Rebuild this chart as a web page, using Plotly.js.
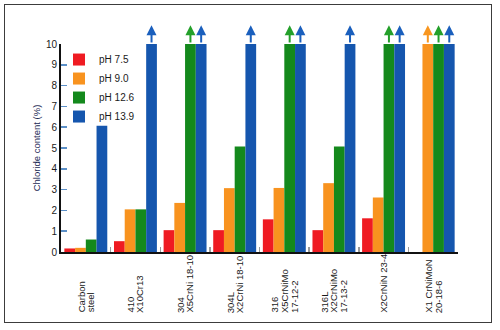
<!DOCTYPE html>
<html><head><meta charset="utf-8">
<script src="https://cdn.plot.ly/plotly-3.0.1.min.js"></script>
<style>
html,body{margin:0;padding:0;background:#fff;}
#wrap{position:relative;width:500px;height:330px;overflow:hidden;}
#chart{width:500px;height:330px;}
#frame{position:absolute;left:4px;top:4px;width:486px;height:317px;border:1.5px solid #3c3c3c;pointer-events:none;}
</style></head><body>
<div id="wrap"><div id="chart"></div><div id="frame"></div></div>
<script>
// ---- data ----
const categories = ["Carbon<br>steel", "410<br>X10Cr13", "304<br>X5CrNi 18-10", "304L<br>X2CrNi 18-10",
  "316<br>X5CrNiMo<br>17-12-2", "316L<br>X2CrNiMo<br>17-13-2", "X2CrNiN 23-4", "X1 CrNiMoN<br>20-18-6"];
const seriesNames = ["pH 7.5", "pH 9.0", "pH 12.6", "pH 13.9"];
const ph75  = [0.17, 0.52, 1.05, 1.05, 1.57, 1.05, 1.62, 0];
const ph90  = [0.20, 2.05, 2.36, 3.07, 3.08, 3.31, 2.62, 10];
const ph126 = [0.60, 2.05, 10, 5.07, 10, 5.07, 10, 10];
const ph139 = [6.07, 10, 10, 10, 10, 10, 10, 10];
const yTicks = [0, 1, 2, 3, 4, 5, 6, 7, 8, 9, 10];
const yTitle = "Chloride content (%)";

// ---- style ----
const barColors = ["#ef1b22", "#f8931f", "#14891c", "#1556ae"];
const arrowColors = ["#ef1b22", "#f8961f", "#24a02a", "#1a5fbd"];
const FONT = "Liberation Sans, Arial, Helvetica, sans-serif";
const series = [ph75, ph90, ph126, ph139];
const yMax = yTicks[yTicks.length - 1];
const groupW = 0.865, barW = groupW / series.length;
const xs = categories.map((_, k) => k);
const barCenter = (k, i) => k - groupW / 2 + (i + 0.5) * barW;

const traces = series.map((vals, i) => ({
  type: 'bar', name: seriesNames[i], x: xs, y: vals,
  width: barW, offset: -groupW / 2 + i * barW,
  marker: {color: barColors[i], line: {width: 0}},
  hoverinfo: 'skip'
}));

const annotations = [];
// arrows for values exceeding the scale
series.forEach((vals, i) => vals.forEach((v, k) => {
  if (v >= yMax) {
    annotations.push({
      x: barCenter(k, i), y: v + 0.9, ax: barCenter(k, i), ay: v,
      xref: 'x', yref: 'y', axref: 'x', ayref: 'y',
      text: '', showarrow: true, arrowhead: 2, arrowsize: 1, arrowwidth: 2,
      arrowcolor: arrowColors[i], standoff: 0, startstandoff: 0
    });
  }
}));
// category labels (rotated, bottom aligned)
categories.forEach((lab, k) => {
  const lines = lab.split('<br>');
  lines.forEach((ln, j) => annotations.push({
    x: k, xref: 'x', y: -0.297, yref: 'paper', text: ln, textangle: -90,
    xanchor: 'center', yanchor: 'bottom', xshift: (j - (lines.length - 1) / 2) * 9.5,
    showarrow: false, font: {family: FONT, size: 9.5, color: '#1a1a1a'}, borderpad: 0
  }));
});

const boundaries = xs.slice(0, -1).map(k => k + 0.5);

const layout = {
  width: 500, height: 330,
  margin: {l: 61, r: 42, t: 44, b: 78},
  paper_bgcolor: '#fff', plot_bgcolor: '#fff',
  font: {family: FONT, size: 10, color: '#1a1a1a'},
  barmode: 'group',
  showlegend: true,
  legend: {x: -0.005, y: 0.995, xanchor: 'left', yanchor: 'top', bgcolor: 'rgba(0,0,0,0)',
    font: {family: FONT, size: 10, color: '#1a1a1a'}, traceorder: 'normal'},
  xaxis: {range: [-0.5, categories.length - 0.5], tickmode: 'array', tickvals: boundaries,
    ticks: 'inside', ticklen: 5, tickwidth: 1.5, tickcolor: '#9a9a9a', showticklabels: false,
    showline: true, linecolor: '#111', linewidth: 2, showgrid: false, zeroline: false, fixedrange: true},
  yaxis: {range: [0, yMax], tickmode: 'array', tickvals: yTicks, ticktext: yTicks.map(String),
    ticks: 'inside', ticklen: 6, tickwidth: 1.5, tickcolor: '#5b8fc7',
    showline: true, linecolor: '#111', linewidth: 2, showgrid: false, zeroline: false,
    tickfont: {family: FONT, size: 10, color: '#1a1a1a'},
    title: {text: yTitle, font: {family: FONT, size: 9.5, color: '#1d2b55'}, standoff: 4}, fixedrange: true},
  annotations: annotations
};

Plotly.newPlot('chart', traces, layout, {displayModeBar: false, staticPlot: true});
</script>
</body></html>
